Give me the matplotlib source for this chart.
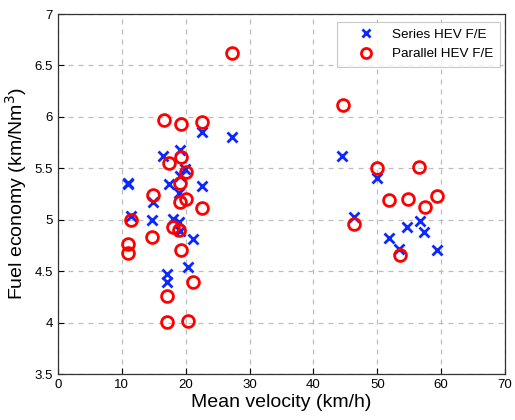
"""Fuel economy vs mean velocity scatter: series vs parallel HEV."""

import matplotlib

matplotlib.use("Agg")
import matplotlib.pyplot as plt

plt.rcParams["font.family"] = ["Liberation Sans", "DejaVu Sans"]

# ---- data
series_v = [10.9, 11.0, 11.4, 14.7, 14.8, 16.5, 17.0, 17.0, 17.4, 18.0,
            19.0, 19.0, 19.1, 19.1, 19.1, 19.9, 20.3, 21.1, 22.5, 22.6,
            27.3, 44.4, 46.3, 50.0, 51.8, 53.4, 54.7, 56.7, 57.3, 59.3]
series_fe = [5.36, 5.35, 5.04, 5.00, 5.17, 5.62, 4.47, 4.39, 5.35, 5.01,
             5.26, 4.98, 4.89, 5.68, 5.43, 5.49, 4.54, 4.81, 5.33, 5.85,
             5.80, 5.62, 5.03, 5.41, 4.82, 4.72, 4.93, 4.99, 4.88, 4.71]

parallel_v = [10.9, 11.0, 11.4, 14.7, 14.9, 16.6, 17.1, 17.1, 17.4, 18.0,
              19.0, 19.1, 19.1, 19.2, 19.2, 19.2, 20.0, 20.0, 20.4, 21.1,
              22.5, 22.6, 27.3, 44.6, 46.3, 50.0, 51.8, 53.5, 54.8, 56.6,
              57.4, 59.3]
parallel_fe = [4.68, 4.76, 5.00, 4.83, 5.24, 5.97, 4.26, 4.01, 5.55, 4.93,
               4.90, 5.36, 5.17, 5.61, 5.93, 4.71, 5.46, 5.20, 4.02, 4.39,
               5.11, 5.95, 6.62, 6.12, 4.96, 5.50, 5.19, 4.66, 5.20, 5.51,
               5.12, 5.23]

x_ticks = [0, 10, 20, 30, 40, 50, 60, 70]
y_ticks = [3.5, 4, 4.5, 5, 5.5, 6, 6.5, 7]

fig = plt.figure(figsize=(5.15, 4.2), dpi=100)
ax = fig.add_axes([0.1126, 0.1095, 0.868, 0.857])

ax.plot(series_v, series_fe, linestyle="none", marker="x", color="#0a28ff",
        markersize=6.5, markeredgewidth=2, label="Series HEV F/E")
ax.plot(parallel_v, parallel_fe, linestyle="none", marker="o", color="#ff0000",
        markerfacecolor="none", markersize=8.5, markeredgewidth=2,
        label="Parallel HEV F/E")

ax.set_xlim(0, 70)
ax.set_ylim(3.5, 7)
ax.set_xticks(x_ticks)
ax.set_yticks(y_ticks)
ax.set_yticklabels([f"{t:g}" for t in y_ticks])
ax.tick_params(direction="in", length=4, labelsize=9.5, width=0.8)
ax.grid(True, linestyle=(0, (4, 4)), color="#bdbdbd", linewidth=0.9)
ax.set_axisbelow(True)
for spine in ax.spines.values():
    spine.set_color("#333333")
    spine.set_linewidth(0.9)

ax.set_xlabel("Mean velocity (km/h)", fontsize=14, labelpad=2)
ax.set_ylabel("Fuel economy (km/Nm$^3$)", fontsize=14, labelpad=4)

# MATLAB-style legend: marker well inside, short gap to the text
leg = ax.legend(loc="upper right", fontsize=9.7, frameon=True, fancybox=False,
                borderpad=0.5, handletextpad=0.25, handlelength=3.3,
                labelspacing=0.5, markerscale=0.85, borderaxespad=0,
                bbox_to_anchor=(0.988, 0.978))
leg.get_frame().set_edgecolor("#bbbbbb")
leg.get_frame().set_linewidth(0.8)

fig.savefig("out.png", dpi=100)
plt.close(fig)
